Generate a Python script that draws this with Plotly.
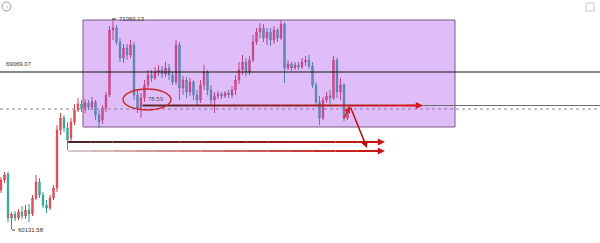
import plotly.graph_objects as go

# ---- candle data (price) ----
opens = [62170, 62690, 63002, 60714, 60922, 60714, 61026, 60818, 61130, 60922,
         61754, 62586, 61910, 61390, 61234, 61754, 62274, 65290, 65914, 65394,
         64874, 65706, 66330, 66642, 66434, 66694, 66486, 66746, 66070, 65810,
         66434, 67110, 70490, 70594, 69866, 69034, 69554, 69190, 69710, 67110,
         66434, 66954, 67630, 68150, 67994, 68306, 68410, 68202, 68514, 68150,
         67786, 69710, 67474, 67890, 67266, 67786, 67110, 66850, 67630, 68306,
         67370, 66850, 67058, 67162, 67058, 67214, 67110, 67370, 67890, 68410,
         68826, 68306, 68930, 69866, 70386, 70594, 70074, 70386, 69970, 70490,
         70074, 70802, 68514, 68722, 68514, 68670, 68566, 68826, 68930, 68618,
         67630, 66746, 65914, 66850, 67058, 66954, 68930, 67266, 67630, 65914]
highs = [62846, 63106, 63106, 61026, 61078, 61182, 61338, 61390, 61442, 61910,
         62950, 62794, 62066, 61650, 61910, 62430, 65550, 66174, 66070, 65706,
         65914, 66642, 66954, 66850, 66902, 66850, 67006, 66850, 66330, 66590,
         67266, 70698, 71060.13, 70750, 70074, 69762, 69762, 69970, 69866, 67370,
         67214, 67890, 68410, 68410, 68566, 68670, 68618, 68826, 68722, 68306,
         69970, 69866, 68098, 68046, 67994, 67890, 67370, 67890, 68670, 68410,
         67630, 67266, 67318, 67266, 67318, 67370, 67578, 68150, 68826, 69190,
         69034, 69138, 70230, 70594, 70854, 70802, 70594, 70594, 70698, 70594,
         71010, 70906, 68930, 68826, 68826, 68826, 69034, 69138, 69190, 68826,
         67786, 67058, 67006, 67266, 67370, 69138, 69034, 67994, 67734, 66330]
lows = [62014, 62534, 60506, 60131.58, 60558, 60610, 60662, 60662, 60506, 60818,
        61650, 61754, 61234, 60974, 61130, 61650, 62066, 65030, 65186, 64250,
        64666, 65550, 66226, 66226, 66174, 66330, 66330, 65810, 65394, 65602,
        66226, 67006, 69970, 69710, 68826, 68774, 68930, 69034, 66850, 66174,
        65914, 66746, 67474, 67786, 67890, 68098, 67994, 68046, 67890, 67630,
        67630, 66850, 67110, 66954, 67058, 66850, 66590, 66694, 67370, 67110,
        66590, 66174, 66902, 66902, 66954, 66954, 66954, 67110, 67682, 68150,
        68098, 68150, 68826, 69710, 70074, 69866, 69710, 69658, 69762, 69866,
        69970, 67734, 68410, 68358, 68410, 68410, 68462, 68618, 68462, 67474,
        66538, 65550, 65810, 66694, 66642, 66850, 66954, 66850, 65758, 65810]
closes = [62690, 62950, 60714, 60922, 60714, 61026, 60818, 61130, 60922, 61754,
          62586, 61910, 61390, 61234, 61754, 62274, 65290, 65914, 65394, 64770,
          65706, 66330, 66642, 66434, 66694, 66486, 66746, 66070, 65706, 66434,
          67110, 70490, 70594, 69866, 69034, 69554, 69190, 69710, 67110, 66434,
          66954, 67630, 68150, 67994, 68306, 68410, 68202, 68514, 68150, 67786,
          69710, 67474, 67890, 67266, 67786, 67110, 66850, 67630, 68306, 67370,
          66850, 67058, 67162, 67058, 67214, 67110, 67370, 67890, 68410, 68826,
          68306, 68930, 69866, 70386, 70594, 70074, 70386, 69970, 70490, 70074,
          70802, 68514, 68722, 68514, 68670, 68566, 68826, 68930, 68618, 67630,
          66746, 65914, 66850, 67058, 66954, 68930, 67266, 67630, 65914, 66226]
idx = list(range(len(opens)))

# ---- drawing levels / labels ----
hline_price = 68306
hline_label = "69069.07"
high_label = "71060.13"
low_label = "60131.58"
ellipse_label = "78.59"
support_price = 66564
dotted_price = 66382

# pixel helpers for drawing tools (chart is 600x243, no margin)
Y_TOP, PX = 72050, 52.0
def X(px):
    return (px - 1) / 3.5
def Y(py):
    return Y_TOP - PX * py

fig = go.Figure()
fig.add_trace(go.Candlestick(
    x=idx, open=opens, high=highs, low=lows, close=closes,
    increasing=dict(line=dict(color="#d9434c", width=1), fillcolor="#e46a70"),
    decreasing=dict(line=dict(color="#2f9e90", width=1), fillcolor="#5cc0b2"),
    whiskerwidth=0, hoverinfo="skip"))

shapes = []
# dotted line under box
shapes.append(dict(type="line", xref="paper", x0=0, x1=1, y0=dotted_price, y1=dotted_price,
                   line=dict(color="#8a8a8a", width=1, dash="dot"), layer="above"))
# purple rectangle
shapes.append(dict(type="rect", x0=X(83), x1=X(455), y0=Y(20), y1=Y(127),
                   fillcolor="rgba(164,66,235,0.35)", line=dict(color="#7b5a8a", width=1),
                   layer="above"))
# black horizontal
shapes.append(dict(type="line", xref="paper", x0=0, x1=1, y0=hline_price, y1=hline_price,
                   line=dict(color="#111111", width=1.2), layer="above"))
# gray support line
shapes.append(dict(type="line", x0=X(140), x1=X(600), y0=support_price, y1=support_price,
                   line=dict(color="#6e6e6e", width=1), layer="above"))

def grad(p0, p1, py, c0, c1, n=14, w=2):
    for k in range(n):
        t = k / (n - 1)
        c = tuple(int(c0[j] + (c1[j] - c0[j]) * t) for j in range(3))
        xa = p0 + (p1 - p0) * k / n
        xb = p0 + (p1 - p0) * (k + 1) / n
        shapes.append(dict(type="line", x0=X(xa), x1=X(xb), y0=Y(py), y1=Y(py),
                           line=dict(color="rgb(%d,%d,%d)" % c, width=w), layer="above"))

grad(143, 418, 105.5, (90, 40, 40), (215, 25, 25))
grad(68, 380, 142, (70, 40, 40), (200, 20, 20))
grad(68, 380, 151, (215, 200, 200), (200, 20, 20))

# ellipse
shapes.append(dict(type="circle", x0=X(123), x1=X(171), y0=Y(110), y1=Y(89),
                   line=dict(color="#c62828", width=1.4), layer="above"))
# little dashes for high / low
shapes.append(dict(type="line", x0=X(112), x1=X(116), y0=Y(19), y1=Y(19),
                   line=dict(color="#333", width=1), layer="above"))
shapes.append(dict(type="line", x0=X(12), x1=X(15), y0=Y(230), y1=Y(230),
                   line=dict(color="#333", width=1), layer="above"))
# icons
shapes.append(dict(type="circle", xref="paper", yref="paper", x0=2/600, x1=11/600,
                   y0=1 - 11/243, y1=1 - 2/243, line=dict(color="#9a9a9a", width=1)))
shapes.append(dict(type="rect", xref="paper", yref="paper", x0=586/600, x1=594/600,
                   y0=1 - 11/243, y1=1 - 3/243, line=dict(color="#c8c8c8", width=1)))

ann = []
def arrow(px0, py0, px1, py1, color, w=1.6):
    ann.append(dict(x=X(px1), y=Y(py1), ax=X(px0), ay=Y(py0), xref="x", yref="y",
                    axref="x", ayref="y", showarrow=True, arrowhead=2, arrowsize=0.9,
                    arrowwidth=w, arrowcolor=color, text=""))

arrow(405, 105.5, 423, 105.5, "#d71a1a")
arrow(370, 142, 385, 142, "#c81414")
arrow(370, 151, 385, 151, "#c81414")
arrow(350, 106, 367, 148, "#b01212", 1.5)
arrow(343, 120, 350, 106, "#e02020", 1.5)

font = dict(family="Liberation Sans, Arial", size=6, color="#333")
ann.append(dict(x=X(4), y=Y(64), text=hline_label, showarrow=False, xanchor="left",
                yanchor="middle", font=font))
ann.append(dict(x=X(117), y=Y(19), text=high_label, showarrow=False, xanchor="left",
                yanchor="middle", font=font))
ann.append(dict(x=X(16), y=Y(230), text=low_label, showarrow=False, xanchor="left",
                yanchor="middle", font=font))
ann.append(dict(x=X(146), y=Y(99), text=ellipse_label, showarrow=False, xanchor="left",
                yanchor="middle", font=dict(family="Liberation Sans, Arial", size=6, color="#555")))
ann.append(dict(xref="paper", yref="paper", x=6.5/600, y=1 - 6.5/243, text="›", showarrow=False,
                font=dict(size=7, color="#9a9a9a"), xanchor="center", yanchor="middle"))

fig.update_layout(
    width=600, height=243, margin=dict(l=0, r=0, t=0, b=0),
    paper_bgcolor="white", plot_bgcolor="white", showlegend=False,
    boxgap=0.45,
    xaxis=dict(range=[X(0), X(600)], visible=False, rangeslider=dict(visible=False),
               fixedrange=True),
    yaxis=dict(range=[Y(243), Y(0)], visible=False, fixedrange=True),
    shapes=shapes, annotations=ann)

fig.write_html("out.html", config={"displayModeBar": False})
